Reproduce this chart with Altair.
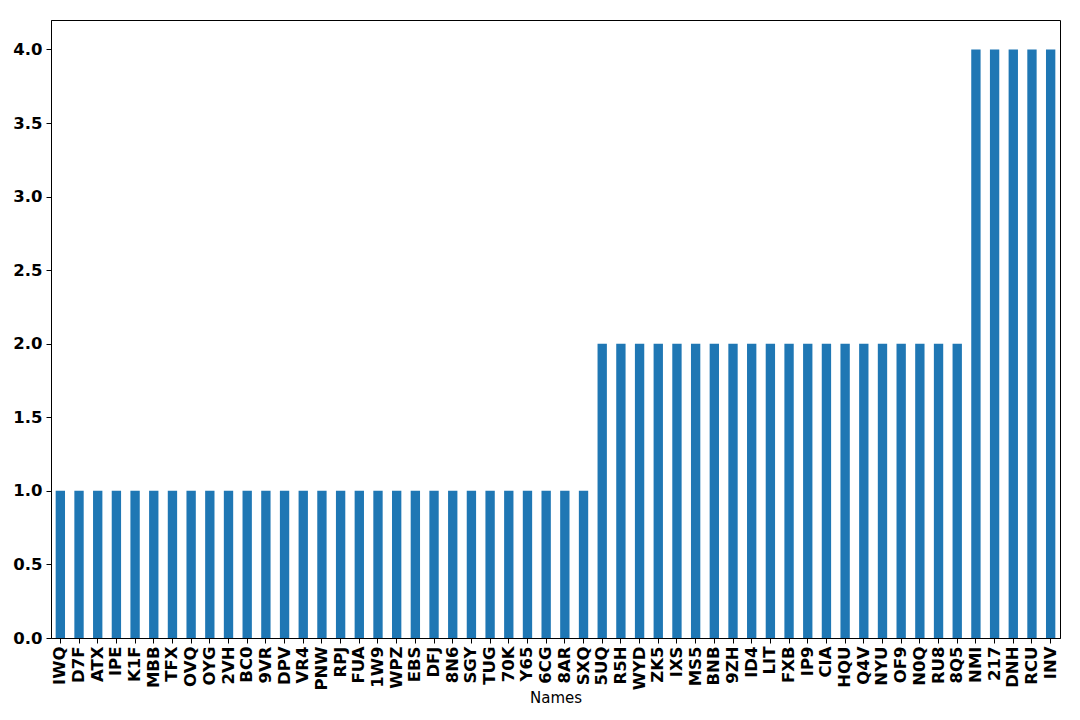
import altair as alt
import pandas as pd

names = ["IWQ", "D7F", "ATX", "IPE", "K1F", "MBB", "TFX", "OVQ", "OYG", "2VH",
         "BC0", "9VR", "DPV", "VR4", "PNW", "RPJ", "FUA", "1W9", "WPZ", "EBS",
         "DFJ", "8N6", "SGY", "TUG", "70K", "Y65", "6CG", "8AR", "SXQ",
         "5UQ", "R5H", "WYD", "ZK5", "IXS", "MS5", "BNB", "9ZH", "ID4", "LIT",
         "FXB", "IP9", "CIA", "HQU", "Q4V", "NYU", "OF9", "N0Q", "RU8", "8Q5",
         "NMI", "217", "DNH", "RCU", "INV"]
values = [1] * 29 + [2] * 20 + [4] * 5
y_ticks = [0, 0.5, 1.0, 1.5, 2.0, 2.5, 3.0, 3.5, 4.0]

df = pd.DataFrame({"Names": names, "value": values})

chart = alt.Chart(df).mark_bar(color="#1f77b4").encode(
    x=alt.X("Names:N", sort=names,
            scale=alt.Scale(paddingInner=0.5, paddingOuter=0.25),
            axis=alt.Axis(title="Names", labelAngle=-90, labelFontSize=16.5,
                          labelFontWeight="bold", labelFont="DejaVu Sans",
                          labelColor="black", titleFont="DejaVu Sans",
                          titleFontSize=15, titleFontWeight="normal",
                          titleColor="black", domainColor="black",
                          tickColor="black", tickSize=5, labelPadding=3,
                          titlePadding=0, labelBaseline="middle", labelAlign="right")),
    y=alt.Y("value:Q", scale=alt.Scale(domain=[0, 4.2], nice=False),
            axis=alt.Axis(title=None, values=y_ticks, format=".1f",
                          labelFontSize=16.5, labelFontWeight="bold",
                          labelFont="DejaVu Sans", labelColor="black",
                          domainColor="black", tickColor="black", tickSize=5,
                          grid=False, labelPadding=4)),
).properties(
    width=1009, height=618,
    autosize=alt.AutoSizeParams(type="none"),
    padding={"left": 43, "top": 12, "right": 12, "bottom": 82},
).configure_view(
    stroke="black", strokeWidth=1
)

chart.save("out.html", embed_options={"renderer": "svg", "actions": False})
